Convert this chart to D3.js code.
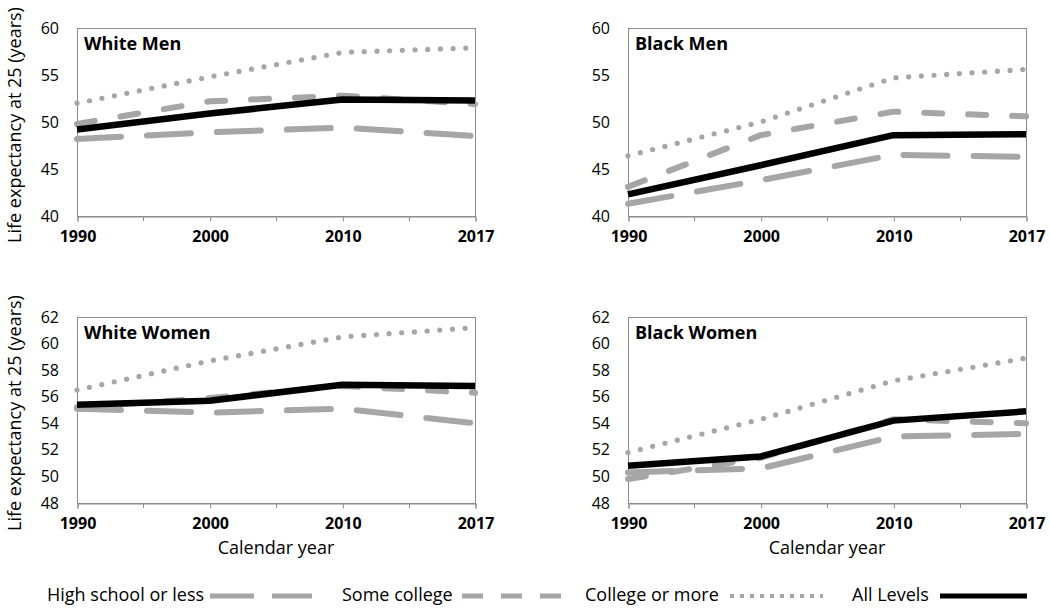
<!DOCTYPE html>
<html>
<head>
<meta charset="utf-8">
<script src="https://cdn.jsdelivr.net/npm/d3@7"></script>
<style>
  html, body { margin: 0; padding: 0; background: #fff; }
  svg { display: block; font-family: "Open Sans", "DejaVu Sans", sans-serif; }
</style>
</head>
<body>
<svg id="chart" width="1050" height="609"></svg>
<script>
// ---------------- data ----------------
const years = ["1990", "2000", "2010", "2017"];
const seriesNames = ["High school or less", "Some college", "College or more", "All Levels"];
const panelNames = ["White Men", "Black Men", "White Women", "Black Women"];

// order of each panel's rows: High school or less, Some college, College or more, All Levels
const whiteMen = [
  [48.2, 48.9, 49.4, 48.5],
  [49.8, 52.2, 52.8, 51.9],
  [52.0, 54.8, 57.4, 57.9],
  [49.2, 50.9, 52.4, 52.3]
];
const blackMen = [
  [41.3, 43.8, 46.5, 46.3],
  [43.1, 48.6, 51.1, 50.6],
  [46.4, 50.0, 54.7, 55.6],
  [42.3, 45.4, 48.6, 48.7]
];
const whiteWomen = [
  [55.1, 54.8, 55.1, 54.0],
  [55.2, 55.9, 56.8, 56.3],
  [56.5, 58.7, 60.5, 61.2],
  [55.4, 55.7, 56.9, 56.8]
];
const blackWomen = [
  [50.3, 50.6, 53.0, 53.2],
  [49.8, 51.4, 54.3, 54.0],
  [51.8, 54.3, 57.2, 58.9],
  [50.8, 51.5, 54.2, 54.9]
];
const yTicksMen = [40, 45, 50, 55, 60];
const yTicksWomen = [48, 50, 52, 54, 56, 58, 60, 62];
const xAxisTitle = "Calendar year";
const yAxisTitle = "Life expectancy at 25 (years)";

// ---------------- styles / layout ----------------
const grey = "#a6a6a6";
const lineStyles = [
  { stroke: grey, width: 6, dash: "44,26", cap: "round", legendDash: "44,18", legendW: 5 },
  { stroke: grey, width: 6, dash: "18,26", cap: "round", legendDash: "21,18", legendW: 5 },
  { stroke: grey, width: 5.2, dash: "0,12.7", cap: "round", legendDash: "4,6", legendW: 4 },
  { stroke: "#000", width: 6.5, dash: null, cap: "butt", legendDash: null, legendW: 5 }
];
const panels = [
  { name: panelNames[0], data: whiteMen, ticks: yTicksMen, box: { l: 77, r: 475, t: 28, b: 216 }, yTitle: true, xTitle: false },
  { name: panelNames[1], data: blackMen, ticks: yTicksMen, box: { l: 628, r: 1026, t: 28, b: 216 }, yTitle: false, xTitle: false },
  { name: panelNames[2], data: whiteWomen, ticks: yTicksWomen, box: { l: 77, r: 475, t: 317, b: 503 }, yTitle: true, xTitle: true },
  { name: panelNames[3], data: blackWomen, ticks: yTicksWomen, box: { l: 628, r: 1026, t: 317, b: 503 }, yTitle: false, xTitle: true }
];

const svg = d3.select("#chart");
const axisColor = "#8c8c8c";

panels.forEach(p => {
  const B = p.box;
  const g = svg.append("g");
  const x = d3.scalePoint().domain(years).range([B.l, B.r]).padding(0);
  const y = d3.scaleLinear().domain(d3.extent(p.ticks)).range([B.b, B.t]);

  // plot frame
  g.append("rect")
    .attr("x", B.l + 0.5).attr("y", B.t + 0.5)
    .attr("width", B.r - B.l).attr("height", B.b - B.t)
    .attr("fill", "none").attr("stroke", axisColor).attr("stroke-width", 1);

  // x axis (labels + major ticks)
  const xa = g.append("g").attr("transform", `translate(0.5,${B.b + 0.5})`)
    .call(d3.axisBottom(x).tickSize(5).tickPadding(9));
  xa.select(".domain").attr("stroke", axisColor);
  xa.selectAll(".tick line").attr("stroke", axisColor);
  xa.selectAll(".tick text").attr("font-size", 16).attr("font-weight", 700)
    .attr("fill", "#000").attr("font-family", "'Open Sans', sans-serif");

  // minor ticks between labelled years
  const half = x.step() / 2;
  const minor = years.slice(0, -1).map(v => x(v) + half);
  g.selectAll(".minor").data(minor).join("line")
    .attr("x1", d => Math.round(d) + 0.5).attr("x2", d => Math.round(d) + 0.5)
    .attr("y1", B.b).attr("y2", B.b + 5)
    .attr("stroke", axisColor);

  // y axis labels
  const ya = g.append("g").attr("transform", `translate(${B.l},0)`)
    .call(d3.axisLeft(y).tickValues(p.ticks).tickSize(0).tickPadding(18));
  ya.select(".domain").remove();
  ya.selectAll(".tick text").attr("font-size", 16).attr("fill", "#000")
    .attr("font-family", "'Open Sans', sans-serif");

  // lines
  const line = d3.line().x((d, i) => x(years[i])).y(d => y(d)).curve(d3.curveLinear);
  p.data.forEach((vals, si) => {
    const s = lineStyles[si];
    g.append("path")
      .attr("d", line(vals))
      .attr("fill", "none")
      .attr("stroke", s.stroke)
      .attr("stroke-width", s.width)
      .attr("stroke-linecap", s.cap)
      .attr("stroke-linejoin", "round")
      .attr("stroke-dasharray", s.dash);
  });

  // panel title
  g.append("text").attr("x", B.l + 7).attr("y", B.t + 22)
    .attr("font-size", 18).attr("font-weight", 700).attr("fill", "#000")
    .text(p.name);

  if (p.yTitle) {
    g.append("text")
      .attr("transform", `translate(21,${(B.t + B.b) / 2 + 3}) rotate(-90)`)
      .attr("text-anchor", "middle").attr("font-size", 18).attr("fill", "#000")
      .text(yAxisTitle);
  }
  if (p.xTitle) {
    g.append("text")
      .attr("x", (B.l + B.r) / 2).attr("y", B.b + 51)
      .attr("text-anchor", "middle").attr("font-size", 18).attr("fill", "#000")
      .text(xAxisTitle);
  }
});

// ---------------- legend ----------------
const legendPos = [
  { tx: 47, l0: 210, l1: 312 },
  { tx: 342, l0: 462, l1: 562 },
  { tx: 585, l0: 730, l1: 823 },
  { tx: 852, l0: 940, l1: 1027 }
];
const legendY = 601;
const lg = svg.append("g");
seriesNames.forEach((name, i) => {
  const P = legendPos[i], s = lineStyles[i];
  lg.append("text").attr("x", P.tx).attr("y", legendY)
    .attr("font-size", 18).attr("fill", "#000").text(name);
  lg.append("line")
    .attr("x1", P.l0).attr("x2", P.l1)
    .attr("y1", legendY - 5).attr("y2", legendY - 5)
    .attr("stroke", s.stroke).attr("stroke-width", s.legendW)
    .attr("stroke-dasharray", s.legendDash);
});
</script>
</body>
</html>
